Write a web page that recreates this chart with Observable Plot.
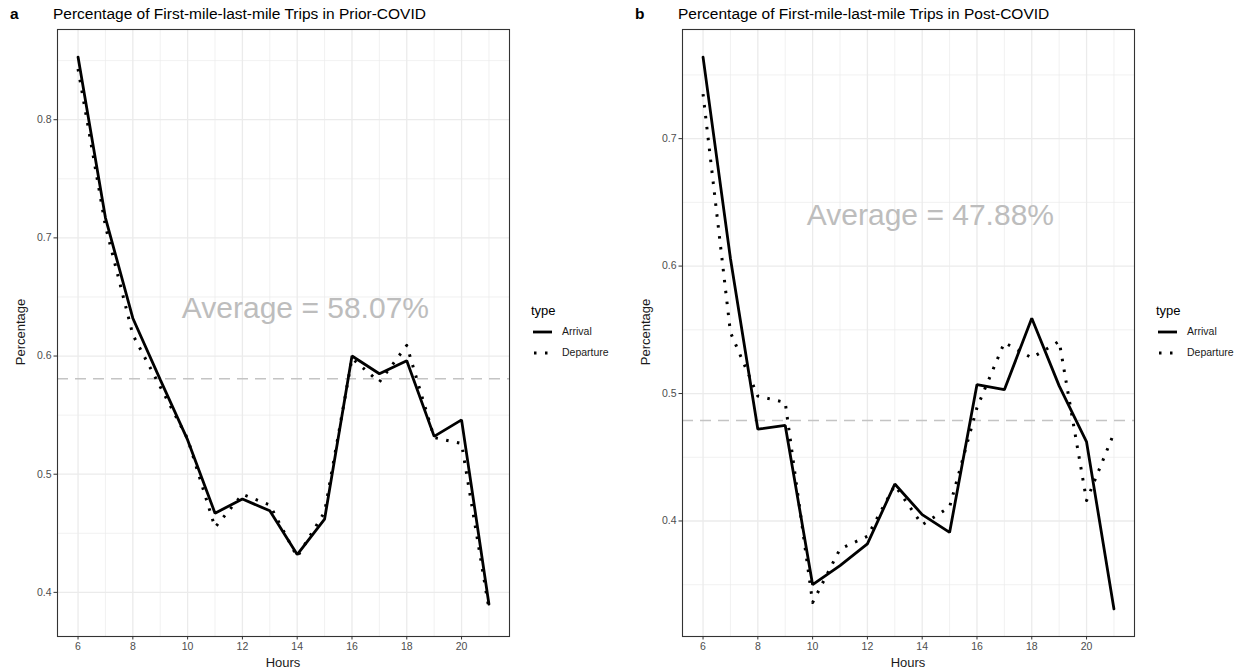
<!DOCTYPE html>
<html>
<head>
<meta charset="utf-8">
<script src="https://cdn.jsdelivr.net/npm/d3@7"></script>
<script src="https://cdn.jsdelivr.net/npm/@observablehq/plot@0.6"></script>
<style>
  body { margin: 0; background: #fff; font-family: "Liberation Sans", Arial, sans-serif; }
  #root { position: relative; width: 1250px; height: 671px; overflow: hidden; background: #fff; }
  .abs { position: absolute; white-space: nowrap; }
  .tag { font-weight: bold; font-size: 15.5px; color: #000; }
  .title { font-size: 15.5px; color: #000; }
  .axtitle { font-size: 13px; color: #1a1a1a; }
  .legtitle { font-size: 13px; color: #000; }
  .leglab { font-size: 10.5px; color: #1a1a1a; }
  .panel { position: absolute; top: 0; }
</style>
</head>
<body>
<div id="root"></div>
<script>
// ---- data ----
const hours = [6, 7, 8, 9, 10, 11, 12, 13, 14, 15, 16, 17, 18, 19, 20, 21];
const priorArrival   = [0.853, 0.717, 0.632, 0.580, 0.529, 0.467, 0.479, 0.469, 0.432, 0.462, 0.600, 0.585, 0.596, 0.532, 0.546, 0.390];
const priorDeparture = [0.843, 0.710, 0.618, 0.574, 0.530, 0.455, 0.483, 0.474, 0.430, 0.468, 0.598, 0.578, 0.609, 0.531, 0.526, 0.386];
const postArrival    = [0.764, 0.606, 0.472, 0.475, 0.350, 0.365, 0.382, 0.429, 0.405, 0.391, 0.507, 0.503, 0.559, 0.506, 0.462, 0.331];
const postDeparture  = [0.735, 0.548, 0.498, 0.493, 0.336, 0.378, 0.388, 0.428, 0.397, 0.411, 0.489, 0.540, 0.528, 0.541, 0.416, 0.469];
const priorAverage = 0.5807;
const postAverage = 0.4788;
const types = ["Arrival", "Departure"];
const xTicks = [6, 8, 10, 12, 14, 16, 18, 20];
const xMinor = [7, 9, 11, 13, 15, 17, 19, 21];
const yTicksPrior = [0.4, 0.5, 0.6, 0.7, 0.8];
const yMinorPrior = [0.45, 0.55, 0.65, 0.75, 0.85];
const yTicksPost = [0.4, 0.5, 0.6, 0.7];
const yMinorPost = [0.35, 0.45, 0.55, 0.65, 0.75];
const titles = ["Percentage of First-mile-last-mile Trips in Prior-COVID", "Percentage of First-mile-last-mile Trips in Post-COVID"];
const tags = ["a", "b"];

const root = document.getElementById("root");
const FONT = "'Liberation Sans', Arial, sans-serif";

function expand(vals) {
  const lo = d3.min(vals), hi = d3.max(vals);
  const pad = (hi - lo) * 0.05;
  return [lo - pad, hi + pad];
}

function panel(arr, dep, avg, yTicks, yMinor, offsetX, tag, title) {
  const arrRows = hours.map((h, i) => ({hour: h, value: arr[i], type: types[0]}));
  const depRows = hours.map((h, i) => ({hour: h, value: dep[i], type: types[1]}));
  const xd = expand(hours);
  const yd = expand(arr.concat(dep));
  const plot = Plot.plot({
    width: 540,
    height: 671,
    marginLeft: 57,
    marginRight: 31,
    marginTop: 29,
    marginBottom: 35,
    style: {fontFamily: FONT, background: "transparent", overflow: "visible"},
    x: {domain: xd},
    y: {domain: yd},
    marks: [
      Plot.gridX(xMinor, {stroke: "#ebebeb", strokeOpacity: 1, strokeWidth: 0.7}),
      Plot.gridY(yMinor.filter(v => v > yd[0] && v < yd[1]), {stroke: "#ebebeb", strokeOpacity: 1, strokeWidth: 0.7}),
      Plot.gridX(xTicks, {stroke: "#ebebeb", strokeOpacity: 1, strokeWidth: 1.3}),
      Plot.gridY(yTicks, {stroke: "#ebebeb", strokeOpacity: 1, strokeWidth: 1.3}),
      Plot.ruleY([avg], {stroke: "#c4c4c4", strokeWidth: 1.5, strokeDasharray: "11,7"}),
      Plot.text([`Average = ${(avg * 100).toFixed(2)}%`], {x: 14.3, y: 0.64, text: d => d, fontSize: 30, fill: "#bdbdbd", textAnchor: "middle"}),
      Plot.line(arrRows, {x: "hour", y: "value", stroke: "#000", strokeWidth: 2.8, strokeLinejoin: "miter"}),
      Plot.line(depRows, {x: "hour", y: "value", stroke: "#000", strokeWidth: 3, strokeDasharray: "2.5,8.5", strokeLinecap: "butt"}),
      Plot.frame({stroke: "#333", strokeWidth: 1.1}),
      Plot.axisX({ticks: xTicks, tickSize: 3.5, tickPadding: 2.5, fontSize: 10.5, fill: "#4d4d4d", stroke: "#333", label: null}),
      Plot.axisY({ticks: yTicks, tickSize: 3.5, tickPadding: 2.5, fontSize: 10.5, fill: "#4d4d4d", stroke: "#333", label: null, tickFormat: d3.format(".1f")})
    ]
  });
  plot.classList.add("panel");
  plot.style.left = offsetX + "px";
  root.appendChild(plot);

  const add = (cls, text, css) => {
    const el = document.createElement("div");
    el.className = "abs " + cls;
    el.textContent = text;
    Object.assign(el.style, css);
    root.appendChild(el);
    return el;
  };
  add("tag", tag, {left: (offsetX + 10) + "px", top: "5px"});
  add("title", title, {left: (offsetX + 53) + "px", top: "5px"});
  add("axtitle", "Hours", {left: (offsetX + 283) + "px", top: "655px", transform: "translateX(-50%)"});
  add("axtitle", "Percentage", {left: (offsetX + 20) + "px", top: "332px", transform: "translate(-50%,-50%) rotate(-90deg)"});

  // legend
  add("legtitle", "type", {left: (offsetX + 531) + "px", top: "303px"});
  const svgNS = "http://www.w3.org/2000/svg";
  const key = document.createElementNS(svgNS, "svg");
  key.setAttribute("width", 24); key.setAttribute("height", 44);
  key.style.position = "absolute";
  key.style.left = (offsetX + 531) + "px";
  key.style.top = "320px";
  const l1 = document.createElementNS(svgNS, "line");
  l1.setAttribute("x1", 2); l1.setAttribute("x2", 21); l1.setAttribute("y1", 12); l1.setAttribute("y2", 12);
  l1.setAttribute("stroke", "#000"); l1.setAttribute("stroke-width", 2.8);
  key.appendChild(l1);
  const l2 = document.createElementNS(svgNS, "line");
  l2.setAttribute("x1", 3); l2.setAttribute("x2", 21); l2.setAttribute("y1", 33); l2.setAttribute("y2", 33);
  l2.setAttribute("stroke", "#000"); l2.setAttribute("stroke-width", 3);
  l2.setAttribute("stroke-dasharray", "2.5,8.5");
  key.appendChild(l2);
  root.appendChild(key);
  add("leglab", types[0], {left: (offsetX + 562) + "px", top: "325px"});
  add("leglab", types[1], {left: (offsetX + 562) + "px", top: "346px"});
}

panel(priorArrival, priorDeparture, priorAverage, yTicksPrior, yMinorPrior, 0, tags[0], titles[0]);
panel(postArrival, postDeparture, postAverage, yTicksPost, yMinorPost, 625, tags[1], titles[1]);
</script>
</body>
</html>
